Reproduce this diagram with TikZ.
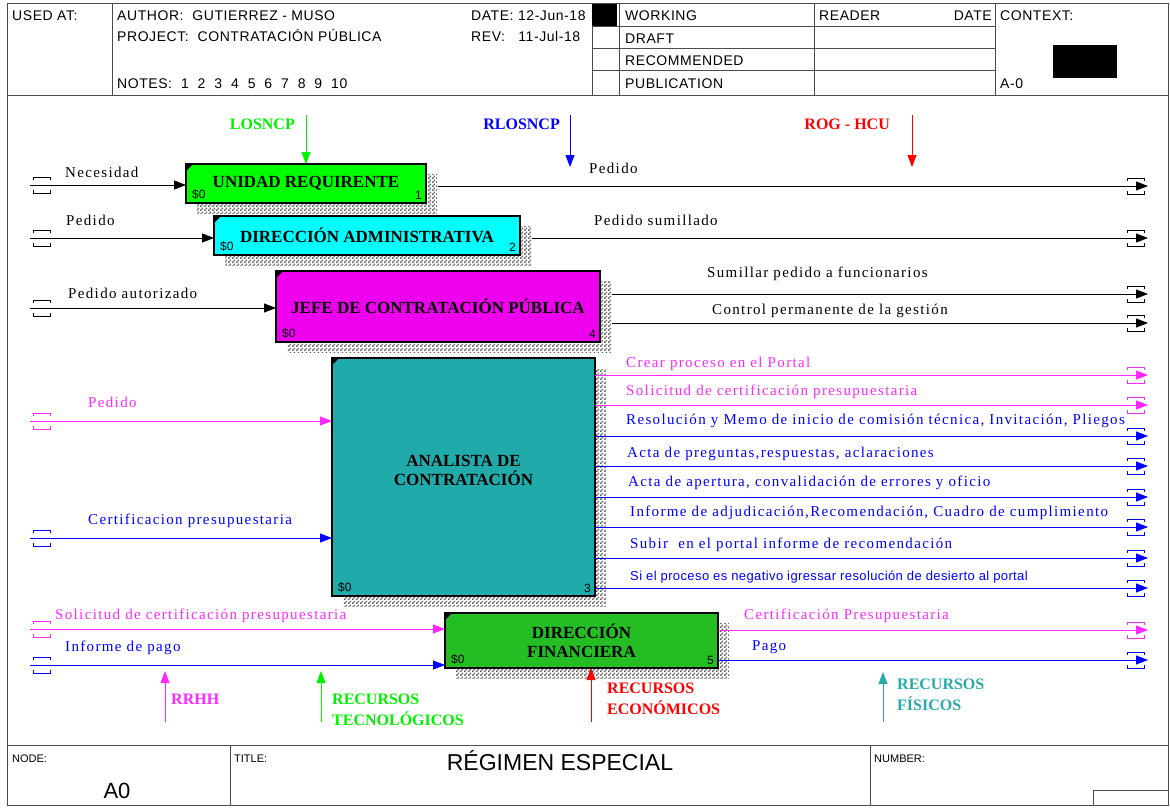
\documentclass[tikz,border=0pt]{standalone}
\usepackage{fontspec}
\setmainfont{Liberation Serif}
\setsansfont{Liberation Sans}
\newfontfamily\rotulo[LetterSpace=9]{Liberation Serif}
\newfontfamily\hoja[LetterSpace=4]{Liberation Sans}
\newfontfamily\rotulosf[LetterSpace=3]{Liberation Sans}
\usepackage{xcolor}
\usetikzlibrary{arrows.meta, patterns, shadows}

\definecolor{verdeUR}{RGB}{0,255,0}
\definecolor{cianDA}{RGB}{0,255,255}
\definecolor{fucsiaJC}{RGB}{238,0,238}
\definecolor{turquesaAC}{RGB}{32,170,170}
\definecolor{verdeDF}{RGB}{36,190,36}
\definecolor{rosa}{RGB}{255,40,255}
\definecolor{azul}{RGB}{0,0,255}
\definecolor{verdetxt}{RGB}{0,240,0}
\definecolor{rojo}{RGB}{255,0,0}
\definecolor{turquesa}{RGB}{40,170,170}

% checker texture for the box shadows
\pgfdeclarepatternformonly{mottle}{\pgfpointorigin}{\pgfpoint{4pt}{4pt}}{\pgfpoint{4pt}{4pt}}{
  \pgfpathrectangle{\pgfpointorigin}{\pgfpoint{2pt}{2pt}}
  \pgfpathrectangle{\pgfpoint{2pt}{2pt}}{\pgfpoint{2pt}{2pt}}
  \pgfusepath{fill}
}

\tikzset{
  sheetline/.style={draw=black!70, line width=0.9pt},
  sheettext/.style={anchor=base west, inner sep=0pt, font=\hoja\fontsize{14}{14}\selectfont},
  actbox/.style={draw, line width=1.8pt, rectangle, align=center, inner sep=0pt, outer sep=0pt,
    font=\bfseries\fontsize{17}{19}\selectfont,
    general shadow={shadow xshift=11pt, shadow yshift=-10pt, pattern=mottle, pattern color=black!60}},
  flow/.style={-{Triangle[length=12pt,width=9pt]}, line width=0.8pt},
  flowlabel/.style={anchor=base west, inner sep=0pt, font=\rotulo\fontsize{15}{15}\selectfont},
  ctllabel/.style={inner sep=0pt, align=left, font=\bfseries\fontsize{16}{21}\selectfont},
  boxref/.style={inner sep=0pt, font=\sffamily\fontsize{12}{12}\selectfont},
  pics/tunnel/.style={code={
    \draw[line width=0.8pt] (-8.5,-5) -- (-8.5,-8) -- (8.5,-8) -- (8.5,-5);
    \draw[line width=0.8pt] (-8.5,5) -- (-8.5,8) -- (8.5,8) -- (8.5,5);
  }}
}

\begin{document}
\begin{tikzpicture}[x=1pt, y=-1pt]
\useasboundingbox (0,0) rectangle (1170,807);

% Sheet frame
\draw[sheetline] (7,3) rectangle (1168,805);
\draw[sheetline] (7,95) -- (1168,95);
\draw[sheetline] (7,745) -- (1168,745);

% Header
\draw[sheetline] (112,3) -- (112,95);
\draw[sheetline] (592,3) -- (592,95);
\draw[sheetline] (619,3) -- (619,95);
\draw[sheetline] (814,3) -- (814,95);
\draw[sheetline] (995,3) -- (995,95);
\foreach \y in {26,48,70}
  \draw[sheetline] (592,\y) -- (995,\y);
\fill (592,4) rectangle (617,26);
\fill (1053,45) rectangle (1117,78);

\node[sheettext] (usedat) at (12,20) {USED AT:};
\node[sheettext] (author) at (117,20) {AUTHOR:~~GUTIERREZ - MUSO};
\node[sheettext] (project) at (117,41) {PROJECT:~~CONTRATACIÓN PÚBLICA};
\node[sheettext] (notes) at (117,88) {NOTES:~~1~~2~~3~~4~~5~~6~~7~~8~~9~~10};
\node[sheettext] (date) at (471,20) {DATE:~12-Jun-18};
\node[sheettext] (rev) at (471,41) {REV:~~~11-Jul-18};
\node[sheettext] (working) at (625,20) {WORKING};
\node[sheettext] (draft) at (625,43) {DRAFT};
\node[sheettext] (recom) at (625,65) {RECOMMENDED};
\node[sheettext] (public) at (625,88) {PUBLICATION};
\node[sheettext] (reader) at (819,20) {READER};
\node[sheettext, anchor=base east] (rdate) at (992,20) {DATE};
\node[sheettext] (context) at (1000,20) {CONTEXT:};
\node[sheettext] (ctxnode) at (1000,88) {A-0};

% Footer
\draw[sheetline] (230,745) -- (230,805);
\draw[sheetline] (870,745) -- (870,805);
\draw[sheetline] (1093,805) -- (1093,790) -- (1168,790);
\node[sheettext, font=\sffamily\fontsize{11}{11}\selectfont] (nodelbl) at (12,762) {NODE:};
\node[sheettext, font=\sffamily\fontsize{11}{11}\selectfont] (titlelbl) at (234,762) {TITLE:};
\node[sheettext, font=\sffamily\fontsize{11}{11}\selectfont] (numlbl) at (874,762) {NUMBER:};
\node[anchor=base, inner sep=0pt, font=\sffamily\fontsize{23}{23}\selectfont] (title) at (560,770) {RÉGIMEN ESPECIAL};
\node[anchor=base, inner sep=0pt, font=\sffamily\fontsize{22}{22}\selectfont] (nodeid) at (117,798) {A0};

% Activities
\node[actbox, fill=verdeUR, minimum width=240, minimum height=39] (unidad) at (306,183.5) {UNIDAD REQUIRENTE};
\node[actbox, fill=cianDA, minimum width=306, minimum height=39] (direccion) at (367,235.5) {DIRECCIÓN ADMINISTRATIVA};
\node[actbox, fill=fucsiaJC, minimum width=324, minimum height=71] (jefe) at (438,306.5) {JEFE DE CONTRATACIÓN PÚBLICA};
\node[actbox, fill=turquesaAC, minimum width=263, minimum height=238] (analista) at (463.5,477) {ANALISTA DE\\CONTRATACIÓN\\[-5pt]};
\node[actbox, fill=verdeDF, minimum width=273, minimum height=55] (financiera) at (581.5,640.5) {DIRECCIÓN\\FINANCIERA};

\foreach \b/\n in {unidad/1, direccion/2, analista/3, jefe/4, financiera/5} {
  \fill (\b.north west) -- ++(7,0) -- ++(-7,7) -- cycle;
  \node[boxref, anchor=south west] (\b-cost) at ([shift={(6,-3)}]\b.south west) {\$0};
  \node[boxref, anchor=south east] (\b-num) at ([shift={(-4,-3)}]\b.south east) {\n};
}

% Inputs
\foreach \name/\y/\col in {inNec/185/black, inPed/238/black, inAut/308/black, inPedA/421/rosa,
    inCert/538/azul, inSol/629/rosa, inInf/665/azul} {
  \coordinate (\name) at (30,\y);
  \pic[\col] at (42,\y) {tunnel};
}
\draw[flow] (inNec) -- (inNec -| unidad.west);
\draw[flow] (inPed) -- (inPed -| direccion.west);
\draw[flow] (inAut) -- (inAut -| jefe.west);
\draw[flow, rosa] (inPedA) -- (inPedA -| analista.west);
\draw[flow, azul] (inCert) -- (inCert -| analista.west);
\draw[flow, rosa] (inSol) -- (inSol -| financiera.west);
\draw[flow, azul] (inInf) -- (inInf -| financiera.west);

\node[flowlabel] (lNec) at (65,177) {Necesidad};
\node[flowlabel] (lPed) at (66,225) {Pedido};
\node[flowlabel] (lAut) at (68,298) {Pedido autorizado};
\node[flowlabel, rosa] (lPedA) at (88,407) {Pedido};
\node[flowlabel, azul] (lCert) at (88,524) {Certificacion presupuestaria};
\node[flowlabel, rosa] (lSol) at (55,619) {Solicitud de certificación presupuestaria};
\node[flowlabel, azul] (lInf) at (65,651) {Informe de pago};

% Outputs
\foreach \name/\y/\col in {o1/186/black, o2/238/black, o3/294/black, o4/323/black,
    o5/375/rosa, o6/405/rosa, o7/436/azul, o8/466/azul, o9/497/azul, o10/527/azul,
    o11/558/azul, o12/588/azul, o13/630/rosa, o14/660/azul} {
  \coordinate (\name) at (1148,\y);
  \pic[\col] at (1136,\y) {tunnel};
}
\draw[flow] ([xshift=12]unidad.east |- o1) -- (o1);
\draw[flow] ([xshift=12]direccion.east |- o2) -- (o2);
\draw[flow] ([xshift=12]jefe.east |- o3) -- (o3);
\draw[flow] ([xshift=12]jefe.east |- o4) -- (o4);
\draw[flow, rosa] (analista.east |- o5) -- (o5);
\draw[flow, rosa] (analista.east |- o6) -- (o6);
\foreach \o in {o7,o8,o9,o10,o11,o12}
  \draw[flow, azul] (analista.east |- \o) -- (\o);
\draw[flow, rosa] (financiera.east |- o13) -- (o13);
\draw[flow, azul] (financiera.east |- o14) -- (o14);

\node[flowlabel] (l1) at (589,173) {Pedido};
\node[flowlabel] (l2) at (594,225) {Pedido sumillado};
\node[flowlabel] (l3) at (707,277) {Sumillar pedido a funcionarios};
\node[flowlabel] (l4) at (712,314) {Control permanente de la gestión};
\node[flowlabel, rosa] (l5) at (626,367) {Crear proceso en el Portal};
\node[flowlabel, rosa] (l6) at (626,395) {Solicitud de certificación presupuestaria};
\node[flowlabel, azul] (l7) at (626,424) {Resolución y Memo de inicio de comisión técnica, Invitación, Pliegos};
\node[flowlabel, azul] (l8) at (627,457) {Acta de preguntas,respuestas, aclaraciones};
\node[flowlabel, azul] (l9) at (628,486) {Acta de apertura, convalidación de errores y oficio};
\node[flowlabel, azul] (l10) at (630,516) {Informe de adjudicación,Recomendación, Cuadro de cumplimiento};
\node[flowlabel, azul] (l11) at (630,548) {Subir~ en el portal informe de recomendación};
\node[flowlabel, azul, font=\rotulosf\fontsize{13}{13}\selectfont] (l12) at (630,580) {Si el proceso es negativo igressar resolución de desierto al portal};
\node[flowlabel, rosa] (l13) at (744,619) {Certificación Presupuestaria};
\node[flowlabel, azul] (l14) at (752,650) {Pago};

% Controls
\coordinate (cLos) at (306,115);
\coordinate (cRl) at (570,115);
\coordinate (cRlEnd) at (570,167);
\coordinate (cRog) at (912,115);
\coordinate (cRogEnd) at (912,167);
\draw[flow, verdetxt] (cLos) -- (cLos |- unidad.north);
\draw[flow, azul] (cRl) -- (cRlEnd);
\draw[flow, rojo] (cRog) -- (cRogEnd);
\node[ctllabel, verdetxt, anchor=base east] (tLos) at (295,129) {LOSNCP};
\node[ctllabel, azul, anchor=base east] (tRl) at (560,129) {RLOSNCP};
\node[ctllabel, rojo, anchor=base east] (tRog) at (890,129) {ROG - HCU};

% Mechanisms
\coordinate (mRh) at (165,722);
\coordinate (mRhEnd) at (165,671);
\coordinate (mTec) at (321,722);
\coordinate (mTecEnd) at (321,671);
\coordinate (mEco) at (591,722);
\coordinate (mFis) at (883,722);
\coordinate (mFisEnd) at (883,672);
\draw[flow, rosa] (mRh) -- (mRhEnd);
\draw[flow, verdetxt] (mTec) -- (mTecEnd);
\draw[flow, rojo] (mEco) -- (mEco |- financiera.south);
\draw[flow, turquesa] (mFis) -- (mFisEnd);
\node[ctllabel, rosa, anchor=base west] (tRh) at (171,704) {RRHH};
\node[ctllabel, verdetxt, anchor=north west] (tTec) at (332,694) {RECURSOS\\TECNOLÓGICOS};
\node[ctllabel, rojo, anchor=north west] (tEco) at (607,683) {RECURSOS\\ECONÓMICOS};
\node[ctllabel, turquesa, anchor=north west] (tFis) at (897,679) {RECURSOS\\FÍSICOS};

\end{tikzpicture}
\end{document}
